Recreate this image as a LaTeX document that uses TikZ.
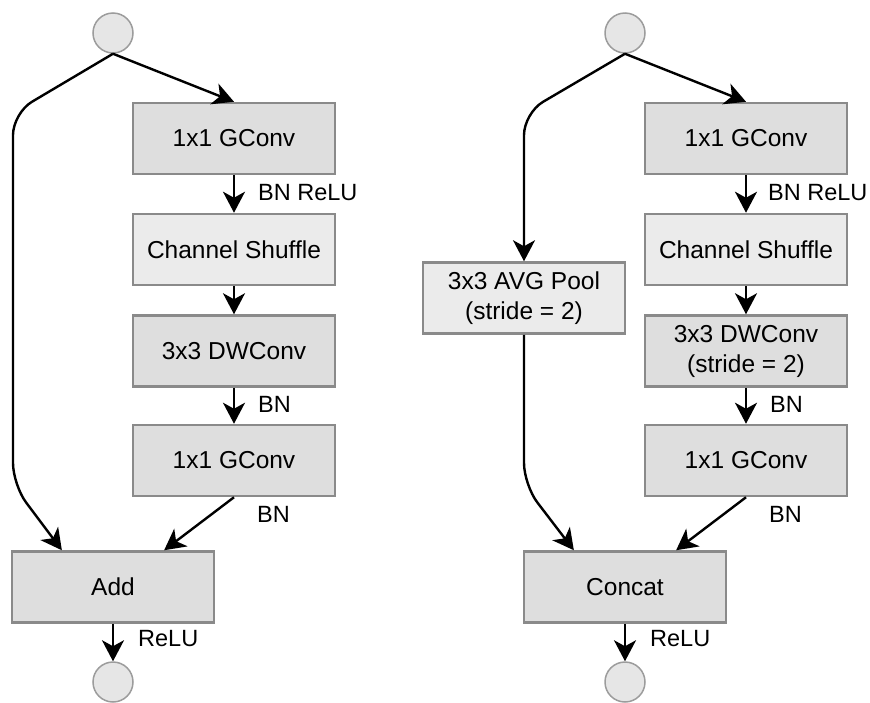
\documentclass[tikz,border=0pt]{standalone}
\usepackage{fontspec}
\setmainfont{Liberation Sans}
\usetikzlibrary{arrows.meta,calc}
\definecolor{boxdark}{HTML}{DEDEDE}
\definecolor{boxlight}{HTML}{EBEBEB}
\definecolor{boxedge}{HTML}{8A8A8A}
\definecolor{dotfill}{HTML}{E6E6E6}
\definecolor{dotedge}{HTML}{9C9C9C}

\begin{document}
\begin{tikzpicture}[x=1pt,y=-1pt,
  font=\fontsize{24.5}{30}\selectfont,
  layer/.style={draw=boxedge, line width=2.5pt, minimum width=202pt, minimum height=71pt, align=center, inner sep=0pt},
  dark/.style={layer, fill=boxdark},
  light/.style={layer, fill=boxlight},
  port/.style={circle, draw=dotedge, fill=dotfill, line width=1.5pt, minimum size=40pt, inner sep=0pt},
  flow/.style={line width=2.4pt, -{Stealth[length=21pt,width=22pt,inset=6pt]}},
  tag/.style={anchor=west, inner sep=0pt, font=\fontsize{23.5}{28}\selectfont}]
\useasboundingbox (0,0) rectangle (870,702);

% ShuffleNet unit (left)
\node[port] (inL) at (113,33) {};
\node[dark] (g1L) at (234,138.5) {1x1 GConv};
\node[light] (shL) at (234,249.5) {Channel Shuffle};
\node[dark] (dwL) at (234,351) {3x3 DWConv};
\node[dark] (g2L) at (234,460.5) {1x1 GConv};
\node[dark] (add) at (113,587) {Add};
\node[port] (outL) at (113,682) {};

\coordinate (kL1) at (13,113);
\coordinate (kL2) at (13,485);

\draw[flow] (inL.south) -- (g1L.north);
\draw[flow, rounded corners=22pt] (inL.south) -- (kL1) -- (kL2) -- ($(add.north west)!0.25!(add.north east)$);
\draw[flow] (g1L.south) -- (shL.north) node[tag, pos=0.45, xshift=23pt] (lb1L) {BN ReLU};
\draw[flow] (shL.south) -- (dwL.north);
\draw[flow] (dwL.south) -- (g2L.north) node[tag, pos=0.45, xshift=23pt] (lb2L) {BN};
\draw[flow] (g2L.south) -- ($(add.north west)!0.75!(add.north east)$);
\node[tag] (lb3L) at ($(g2L.south)+(23,17)$) {BN};
\draw[flow] (add.south) -- (outL.north) node[tag, pos=0.4, xshift=24pt] (lb4L) {ReLU};

% ShuffleNet unit with stride 2 (right)
\node[port] (inR) at (625,33) {};
\node[dark] (g1R) at (746,138.5) {1x1 GConv};
\node[light] (shR) at (746,249.5) {Channel Shuffle};
\node[dark] (dwR) at (746,351) {3x3 DWConv\\(stride = 2)};
\node[dark] (g2R) at (746,460.5) {1x1 GConv};
\node[light] (pool) at (524,298) {3x3 AVG Pool\\(stride = 2)};
\node[dark] (cat) at (625,587) {Concat};
\node[port] (outR) at (625,682) {};

\coordinate (kR1) at (524,113);
\coordinate (kR2) at (524,485);

\draw[flow] (inR.south) -- (g1R.north);
\draw[flow, rounded corners=22pt] (inR.south) -- (kR1) -- (pool.north);
\draw[flow, rounded corners=22pt] (pool.south) -- (kR2) -- ($(cat.north west)!0.25!(cat.north east)$);
\draw[flow] (g1R.south) -- (shR.north) node[tag, pos=0.45, xshift=21pt] (lb1R) {BN ReLU};
\draw[flow] (shR.south) -- (dwR.north);
\draw[flow] (dwR.south) -- (g2R.north) node[tag, pos=0.45, xshift=23pt] (lb2R) {BN};
\draw[flow] (g2R.south) -- ($(cat.north west)!0.75!(cat.north east)$);
\node[tag] (lb3R) at ($(g2R.south)+(23,17)$) {BN};
\draw[flow] (cat.south) -- (outR.north) node[tag, pos=0.4, xshift=24pt] (lb4R) {ReLU};
\end{tikzpicture}
\end{document}
